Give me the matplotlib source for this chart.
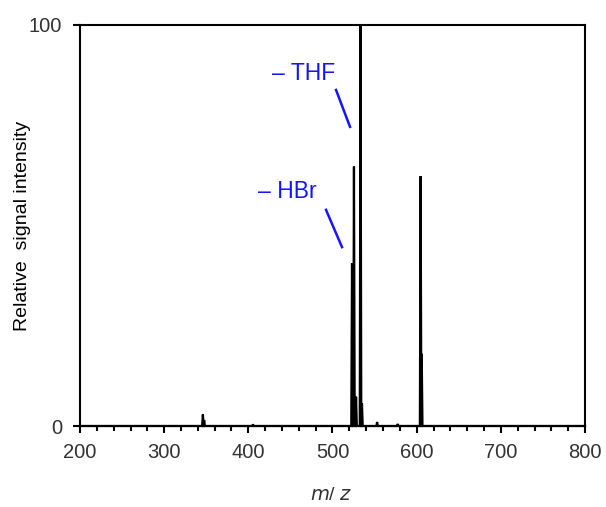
import matplotlib
matplotlib.use("Agg")
import matplotlib.pyplot as plt
from matplotlib.ticker import MultipleLocator

plt.rcParams['font.family'] = ['Liberation Sans', 'DejaVu Sans']

# Peak list: m/z centres and relative intensities
peak_mz = [346.0, 347.5, 405.5, 523.2, 525.5, 528.0, 533.3, 535.0, 553.0, 577.5, 604.7, 606.0]
peak_int = [2.9, 1.5, 0.4, 40.6, 64.7, 7.3, 100.0, 5.7, 1.0, 0.5, 62.3, 18.0]
peak_halfwidth = 0.9

x_ticks = [200, 300, 400, 500, 600, 700, 800]
y_ticks = [0, 100]

fig = plt.figure(figsize=(6.06, 5.07), dpi=100)
ax = fig.add_axes([80 / 606, (507 - 426) / 507, 505 / 606, 401 / 507])

# baseline-to-peak profile built from the peak list
xs, ys = [200.0], [0.0]
for m, h in sorted(zip(peak_mz, peak_int)):
    xs += [m - peak_halfwidth, m, m + peak_halfwidth]
    ys += [0.0, h, 0.0]
xs.append(800.0)
ys.append(0.0)
ax.plot(xs, ys, color='black', lw=1.6, solid_joinstyle='miter', clip_on=False)
ax.fill(xs, ys, color='black', lw=0)

label_color = '#333333'
ax.set_xlim(200, 800)
ax.set_ylim(0, 100)
ax.set_xticks(x_ticks)
ax.set_yticks(y_ticks)
ax.xaxis.set_minor_locator(MultipleLocator(20))
ax.tick_params(axis='both', which='major', direction='out', length=5, width=1.5,
               labelsize=14.5, color='black', labelcolor=label_color)
ax.tick_params(axis='x', which='major', pad=7)
ax.tick_params(axis='y', which='major', pad=8)
ax.tick_params(axis='x', which='minor', direction='out', length=3.5, width=1.5)
for s in ax.spines.values():
    s.set_linewidth(1.5)

ax.set_ylabel('Relative  signal intensity', fontsize=14, color='black', va='center')
ax.yaxis.set_label_coords(-57 / 505, 0.5)
ax.set_xlabel(r'$m$/ $z$', fontsize=14, color=label_color, va='center')
ax.xaxis.set_label_coords(0.497, -70 / 401)

# loss annotations
blue = '#1414ff'
ax.text(428, 88.0, '– THF', color=blue, fontsize=16.5, ha='left', va='center')
ax.plot([504.2, 520.8], [83.8, 74.6], color=blue, lw=1.8)
ax.text(411.5, 58.4, '– HBr', color=blue, fontsize=16.5, ha='left', va='center')
ax.plot([492.3, 511.3], [53.9, 44.6], color=blue, lw=1.8)

fig.savefig('out.png', dpi=100)
